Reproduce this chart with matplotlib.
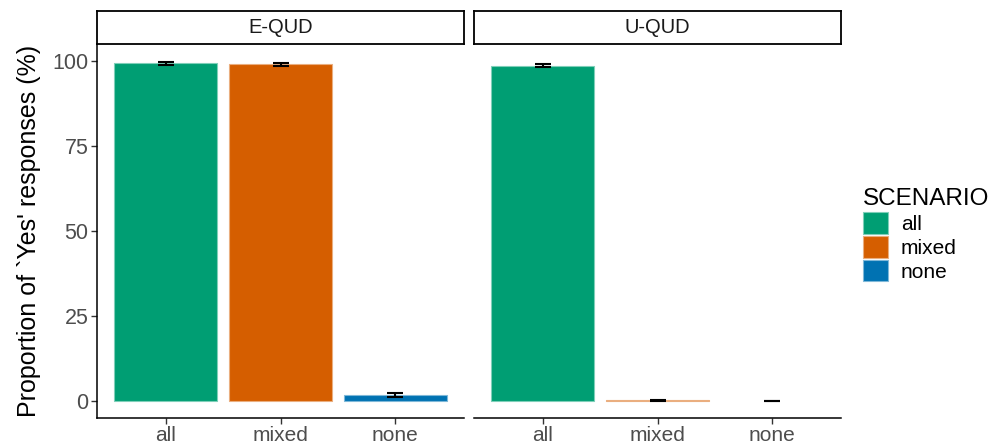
import matplotlib
matplotlib.use("Agg")
import matplotlib.pyplot as plt
from matplotlib.patches import Patch
import numpy as np

# data
scenarios = ["all", "mixed", "none"]
panels = ["E-QUD", "U-QUD"]
means = {
    "E-QUD": [99.3, 99.0, 1.8],
    "U-QUD": [98.6, 0.2, 0.0],
}
errors = {
    "E-QUD": [0.4, 0.5, 0.7],
    "U-QUD": [0.5, 0.15, 0.1],
}
colors = ["#009E73", "#D55E00", "#0072B2"]
edge_colors = ["#7fcfb9", "#eaae7f", "#7fb8d8"]
yticks = [0, 25, 50, 75, 100]

W, H = 990, 446
fig = plt.figure(figsize=(W / 100, H / 100), dpi=100)
plt.rcParams["font.family"] = ["Liberation Sans", "DejaVu Sans"]

panel_x = [97, 474]
panel_w = 367
top, bottom = 44, 418
strip_top = 11

x = np.arange(len(scenarios))
for i, name in enumerate(panels):
    ax = fig.add_axes([panel_x[i] / W, 1 - bottom / H, panel_w / W, (bottom - top) / H])
    lws = [0.8 if v > 0 else 0 for v in means[name]]
    ax.bar(x, means[name], width=0.9, color=colors, edgecolor=edge_colors, linewidth=lws)
    ax.errorbar(x, means[name], yerr=errors[name], fmt="none", ecolor="black",
                elinewidth=1.5, capsize=6, capthick=1.5)
    ax.set_xlim(-0.6, 2.6)
    ax.set_ylim(-4.99, 104.95)
    ax.set_xticks(x)
    ax.set_xticklabels(scenarios, fontsize=15, color="#4D4D4D")
    for s in ["top", "right"]:
        ax.spines[s].set_visible(False)
    ax.spines["bottom"].set_linewidth(1.1)
    ax.spines["left"].set_linewidth(1.1)
    ax.tick_params(axis="both", length=4, width=1.0, color="#333333", pad=2)
    if i == 0:
        ax.set_yticks(yticks)
        ax.set_yticklabels([str(v) for v in yticks], fontsize=15.5, color="#4D4D4D")
        ax.set_ylabel("Proportion of `Yes' responses (%)", fontsize=18, labelpad=8)
    else:
        ax.spines["left"].set_visible(False)
        ax.set_yticks([])

    # facet strip
    sax = fig.add_axes([panel_x[i] / W, 1 - top / H, panel_w / W, (top - strip_top) / H])
    sax.set_xticks([])
    sax.set_yticks([])
    for s in sax.spines.values():
        s.set_linewidth(1.3)
    sax.text(0.5, 0.5, name, ha="center", va="center", fontsize=14.5, color="#1A1A1A",
             transform=sax.transAxes)

handles = [Patch(facecolor=c, edgecolor=e, linewidth=0.8) for c, e in zip(colors, edge_colors)]
leg = fig.legend(handles, scenarios, title="SCENARIO", loc="upper left",
                 bbox_to_anchor=(855 / W, 1 - 180 / H), frameon=False,
                 fontsize=15, title_fontsize=17.5, handlelength=1.2, handleheight=1.2,
                 handletextpad=0.6, labelspacing=0.1, borderaxespad=0)
leg._legend_box.align = "left"

fig.savefig("out.png", dpi=100)
